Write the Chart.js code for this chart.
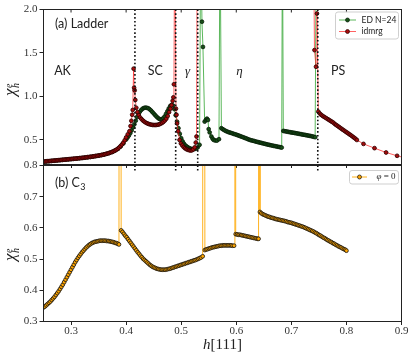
<!DOCTYPE html>
<html><head><meta charset="utf-8">
<script src="https://cdn.jsdelivr.net/npm/chart.js@4.4.0/dist/chart.umd.min.js"></script>
<style>
html,body{margin:0;padding:0;background:#fff;}
#wrap{position:relative;width:415px;height:359px;overflow:hidden;}
canvas{position:absolute;left:0;top:0;}
</style></head><body>
<div id="wrap"><canvas id="cTop" width="415" height="359"></canvas><canvas id="cBot" width="415" height="359"></canvas></div>
<script>
// ---------- data ----------
const xTicks = [0.3,0.4,0.5,0.6,0.7,0.8,0.9];
const topYTicks = [0.5,1.0,1.5,2.0];
const botYTicks = [0.3,0.4,0.5,0.6,0.7,0.8];
const phaseBoundaries = [0.416,0.49,0.53,0.748];
const phaseNames = ['AK','SC','γ','η','PS'];
const phaseLabelX = [0.2845,0.4528,0.5116,0.6058,0.7848];
const phaseLabelY = [1.25,1.25,1.25,1.25,1.25];

// ED N=24 (ladder)
const edX = [0.25,0.255,0.26,0.265,0.27,0.275,0.28,0.285,0.29,0.295,0.30,0.305,0.31,0.315,0.32,0.325,0.33,0.335,0.34,0.345,0.35,0.355,0.36,0.365,0.37,0.375,0.38,0.385,0.39,0.395,
0.40,0.4025,0.405,0.4075,0.41,0.4125,0.415,0.4175,0.42,0.4225,0.425,0.4275,0.43,0.4325,0.435,0.4375,0.44,0.4425,0.445,0.4475,0.45,0.4525,0.455,0.4575,0.46,0.4625,0.465,0.4675,0.47,0.4725,0.475,0.4775,0.48,0.4825,0.485,0.4875,0.49,0.4925,0.495,0.4975,0.50,0.5025,0.505,0.5075,0.51,0.5125,0.515,0.5175,0.52,0.5225,0.525,0.5275,0.53,0.5334,
0.5355,0.5377,0.5395,0.5426,0.5448,0.5468,0.5486,0.5499,0.5517,0.5548,0.557,0.559,0.562,0.565,0.5686,0.5705,
0.573,0.5755,0.578,0.5805,0.583,0.5855,0.588,0.5905,0.593,0.5955,0.598,0.6005,0.603,0.6055,0.608,0.6105,0.613,0.6155,0.618,0.6205,0.623,0.6255,0.628,0.6305,0.633,0.6355,0.638,0.6405,0.643,0.6455,0.648,0.6505,0.653,0.6555,0.658,0.6605,0.663,0.6655,0.668,0.6705,0.673,0.6755,0.678,0.6805,0.6825,
0.6838,0.6854,0.688,0.6905,0.693,0.6955,0.698,0.7005,0.703,0.7055,0.708,0.7105,0.713,0.7155,0.718,0.7205,0.723,0.7255,0.728,0.7305,0.733,0.7355,0.738,0.7405,0.7432,0.7455];
const edY = [0.25,0.253,0.256,0.259,0.262,0.265,0.268,0.271,0.274,0.277,0.28,0.283,0.286,0.29,0.293,0.297,0.301,0.305,0.31,0.315,0.32,0.326,0.333,0.341,0.351,0.363,0.378,0.397,0.425,0.46,
0.505,0.527,0.55,0.578,0.61,0.645,0.68,0.722,0.765,0.798,0.825,0.845,0.86,0.868,0.872,0.87,0.865,0.854,0.84,0.823,0.805,0.787,0.77,0.755,0.743,0.736,0.737,0.752,0.77,0.8,0.83,0.862,0.89,0.903,0.897,0.855,0.785,0.71,0.635,0.57,0.52,0.485,0.458,0.438,0.425,0.414,0.405,0.399,0.395,0.394,0.397,0.404,0.415,0.444,
3.0,1.86,1.57,0.711,0.73,0.745,0.73,0.625,0.587,0.54,0.515,0.50,0.494,0.493,0.509,3.0,
0.635,0.624,0.614,0.605,0.598,0.591,0.586,0.581,0.576,0.57,0.565,0.56,0.554,0.548,0.542,0.536,0.53,0.524,0.518,0.511,0.505,0.499,0.495,0.491,0.487,0.482,0.478,0.474,0.47,0.466,0.462,0.458,0.454,0.45,0.446,0.443,0.439,0.436,0.432,0.429,0.426,0.422,0.419,0.416,0.413,
3.0,0.604,0.601,0.598,0.595,0.592,0.589,0.586,0.584,0.581,0.578,0.575,0.572,0.569,0.566,0.562,0.56,0.557,0.554,0.551,0.548,0.545,0.541,0.537,0.532,3.0];

// idmrg (ladder)
const dmrgX = [0.25,0.2525,0.255,0.2575,0.26,0.2625,0.265,0.2675,0.27,0.2725,0.275,0.2775,0.28,0.2825,0.285,0.2875,0.29,0.2925,0.295,0.2975,0.30,0.3025,0.305,0.3075,0.31,0.3125,0.315,0.3175,0.32,0.3225,0.325,0.3275,0.33,0.3325,0.335,0.3375,0.34,0.3425,0.345,0.3475,0.35,0.3525,0.355,0.3575,0.36,0.3625,0.365,0.3675,0.37,0.3725,0.375,0.3775,0.38,0.3825,0.385,0.3875,0.39,0.3925,0.395,0.3975,0.40,
0.403,0.406,0.408,0.4095,0.411,0.412,0.4136,0.4145,0.4155,0.4167,0.4185,0.4205,0.423,0.4255,0.428,0.4305,0.433,0.4355,0.438,0.4405,0.443,0.4455,0.448,0.4505,0.453,0.4555,0.458,0.4605,0.463,0.4655,0.468,0.4705,0.473,0.4755,0.478,0.4805,0.4825,0.4845,0.4858,0.4868,0.4883,
0.4905,0.4915,0.4925,0.4945,0.497,0.4995,0.502,0.5045,0.507,0.5095,0.512,0.5145,0.517,0.5195,0.522,0.5245,0.5265,0.5278,0.5292,
0.74,0.742,0.7448,0.7465,0.749,0.7515,0.754,0.7565,0.759,0.7615,0.764,0.7665,0.769,0.7715,0.774,0.7765,0.779,0.7815,0.784,0.7865,0.789,0.7915,0.794,0.7965,0.799,0.8015,0.804,0.8065,0.809,0.8115,0.814,0.8165,0.819,
0.831,0.851,0.872,0.892,0.912];
const dmrgY = [0.252,0.253,0.255,0.256,0.257,0.259,0.26,0.262,0.263,0.265,0.266,0.268,0.269,0.271,0.272,0.274,0.275,0.277,0.278,0.28,0.281,0.283,0.284,0.286,0.287,0.289,0.291,0.292,0.294,0.296,0.298,0.3,0.302,0.304,0.306,0.308,0.311,0.313,0.316,0.318,0.321,0.324,0.327,0.33,0.334,0.338,0.342,0.347,0.352,0.358,0.364,0.371,0.38,0.389,0.40,0.414,0.43,0.449,0.47,0.497,0.53,
0.565,0.60,0.66,0.72,0.79,0.845,1.32,1.10,1.07,0.96,0.87,0.82,0.785,0.758,0.74,0.724,0.711,0.70,0.692,0.685,0.68,0.676,0.673,0.672,0.672,0.673,0.676,0.681,0.688,0.697,0.709,0.725,0.745,0.775,0.82,0.86,0.90,0.95,0.99,1.14,3.0,
0.86,0.79,0.69,0.60,0.50,0.46,0.437,0.418,0.404,0.394,0.387,0.382,0.379,0.381,0.393,0.415,0.47,0.54,3.0,
3.0,1.533,1.342,1.954,0.826,0.805,0.79,0.778,0.768,0.758,0.748,0.738,0.728,0.718,0.708,0.698,0.683,0.672,0.661,0.65,0.638,0.627,0.616,0.605,0.594,0.583,0.572,0.561,0.55,0.538,0.526,0.514,0.50,
0.455,0.406,0.356,0.318,0.286];

// C3, phi = 0
const c3X = [0.25,0.2525,0.255,0.2575,0.26,0.2625,0.265,0.2675,0.27,0.2725,0.275,0.2775,0.28,0.2825,0.285,0.2875,0.29,0.2925,0.295,0.2975,0.30,0.3025,0.305,0.3075,0.31,0.3125,0.315,0.3175,0.32,0.3225,0.325,0.3275,0.33,0.3325,0.335,0.3375,0.34,0.3425,0.345,0.3475,0.35,0.3525,0.355,0.3575,0.36,0.3625,0.365,0.3675,0.37,0.3725,0.375,0.3775,0.38,0.3825,0.385,0.387,
0.389,
0.391,0.3935,0.396,0.3985,0.401,0.4035,0.406,0.4085,0.411,0.4135,0.416,0.4185,0.421,0.4235,0.426,0.4285,0.431,0.4335,0.436,0.4385,0.441,0.4435,0.446,0.4485,0.451,0.4535,0.456,0.4585,0.461,0.4635,0.466,0.4685,0.471,0.4735,0.476,0.4785,0.481,0.4835,0.486,0.4885,0.491,0.4935,0.496,0.4985,0.501,0.5035,0.506,0.5085,0.511,0.5135,0.516,0.5185,0.521,0.5235,0.526,0.5285,0.531,0.5335,0.536,0.539,
0.541,
0.543,0.5455,0.548,0.5505,0.553,0.5555,0.558,0.5605,0.563,0.5655,0.568,0.5705,0.573,0.5755,0.578,0.5805,0.583,0.5855,0.588,0.5905,0.593,0.596,
0.5975,
0.599,0.6015,0.604,0.6065,0.609,0.6115,0.614,0.6165,0.619,0.6215,0.624,0.6265,0.629,0.6315,0.634,0.6365,0.639,0.6405,
0.6417,
0.643,0.6455,0.648,0.6505,0.653,0.6555,0.658,0.6605,0.663,0.6655,0.668,0.6705,0.673,0.6755,0.678,0.6805,0.683,0.6855,0.688,0.6905,0.693,0.6955,0.698,0.7005,0.703,0.7055,0.708,0.7105,0.713,0.7155,0.718,0.7205,0.723,0.7255,0.728,0.7305,0.733,0.7355,0.738,0.7405,0.743,0.7455,0.748,0.7505,0.753,0.7555,0.758,0.7605,0.763,0.7655,0.768,0.7705,0.773,0.7755,0.778,0.7805,0.783,0.7855,0.788,0.7905,0.793,0.7955,0.798,0.80];
const c3Y = [0.345,0.348,0.352,0.356,0.36,0.364,0.369,0.374,0.379,0.385,0.391,0.397,0.404,0.411,0.418,0.426,0.434,0.442,0.45,0.458,0.466,0.474,0.482,0.49,0.497,0.504,0.51,0.516,0.522,0.527,0.532,0.537,0.541,0.545,0.548,0.551,0.553,0.555,0.556,0.557,0.558,0.559,0.559,0.559,0.559,0.559,0.558,0.558,0.557,0.556,0.555,0.554,0.552,0.551,0.549,0.547,
5.0,
0.592,0.587,0.581,0.575,0.57,0.564,0.558,0.552,0.546,0.54,0.534,0.528,0.522,0.517,0.511,0.506,0.501,0.497,0.493,0.489,0.485,0.481,0.478,0.475,0.473,0.471,0.469,0.468,0.467,0.466,0.466,0.466,0.466,0.467,0.468,0.469,0.47,0.472,0.473,0.475,0.476,0.478,0.479,0.481,0.482,0.484,0.485,0.487,0.488,0.49,0.491,0.493,0.494,0.496,0.497,0.499,0.501,0.503,0.505,0.509,
5.0,
0.529,0.531,0.532,0.534,0.535,0.537,0.538,0.539,0.54,0.541,0.542,0.543,0.543,0.544,0.544,0.544,0.544,0.544,0.544,0.544,0.543,0.543,
5.0,
0.58,0.579,0.578,0.578,0.577,0.576,0.575,0.574,0.573,0.572,0.571,0.57,0.569,0.568,0.567,0.566,0.565,0.565,
5.0,
0.651,0.647,0.644,0.642,0.64,0.638,0.636,0.635,0.633,0.632,0.631,0.629,0.628,0.627,0.626,0.625,0.624,0.623,0.622,0.621,0.619,0.618,0.617,0.616,0.614,0.613,0.611,0.61,0.608,0.607,0.605,0.604,0.602,0.6,0.598,0.596,0.594,0.592,0.59,0.588,0.585,0.583,0.58,0.577,0.575,0.572,0.569,0.567,0.564,0.561,0.559,0.556,0.554,0.551,0.549,0.546,0.544,0.541,0.539,0.537,0.534,0.532,0.53,0.527];

// ---------- styles ----------
const ED_LINE = 'rgba(50,165,50,0.8)', ED_FILL = '#174f17', ED_EDGE = '#061c06';
const DM_LINE = 'rgba(255,45,45,0.75)', DM_FILL = '#a50d0d', DM_EDGE = '#2a0000';
const OR_LINE = '#ffb21f', OR_FILL = '#ffa500', OR_EDGE = '#111';
const TICK_FONT = {family: 'Liberation Serif', size: 11};
const SANS = 'Lato';

const pts = (xs, ys) => xs.map((x, i) => ({x: x, y: ys[i]}));

const framePlugin = {
  id: 'frame',
  afterDraw(chart) {
    const {ctx, chartArea: a} = chart;
    ctx.save();
    ctx.strokeStyle = '#222'; ctx.lineWidth = 1;
    ctx.strokeRect(a.left, a.top, a.right - a.left, a.bottom - a.top);
    ctx.restore();
  }
};

function drawYTitle(ctx, cx, cy) {
  ctx.save();
  ctx.translate(cx, cy);
  ctx.rotate(-Math.PI / 2);
  ctx.fillStyle = '#222';
  ctx.textBaseline = 'alphabetic';
  ctx.font = 'italic 17px "Liberation Serif"';
  ctx.fillText('χ', -9, 0);
  const w = ctx.measureText('χ').width;
  ctx.font = 'italic 10px "Liberation Serif"';
  ctx.fillText('e', -9 + w + 0.5, -3);
  ctx.fillText('h', -9 + w + 0.5, 4);
  ctx.restore();
}

function drawLegendBox(ctx, x, y, w, h) {
  ctx.save();
  ctx.fillStyle = 'rgba(255,255,255,0.85)';
  ctx.strokeStyle = '#cfcfcf'; ctx.lineWidth = 1;
  ctx.beginPath();
  if (ctx.roundRect) ctx.roundRect(x, y, w, h, 2.5); else ctx.rect(x, y, w, h);
  ctx.fill(); ctx.stroke();
  ctx.restore();
}
function drawLegendSample(ctx, x0, x1, y, line, fill, edge) {
  ctx.save();
  ctx.strokeStyle = line; ctx.lineWidth = 1;
  ctx.beginPath(); ctx.moveTo(x0, y); ctx.lineTo(x1, y); ctx.stroke();
  ctx.fillStyle = fill; ctx.strokeStyle = edge; ctx.lineWidth = 0.7;
  ctx.beginPath(); ctx.arc((x0 + x1) / 2, y, 2, 0, Math.PI * 2); ctx.fill(); ctx.stroke();
  ctx.restore();
}

const topDecor = {
  id: 'topDecor',
  afterDatasetsDraw(chart) {
    const {ctx, chartArea: a, scales: {x}} = chart;
    ctx.save();
    ctx.strokeStyle = '#111'; ctx.lineWidth = 1.6; ctx.setLineDash([1.6, 2.2]);
    phaseBoundaries.forEach(v => {
      const px = x.getPixelForValue(v);
      ctx.beginPath(); ctx.moveTo(px, a.top); ctx.lineTo(px, a.bottom + 6); ctx.stroke();
    });
    ctx.restore();
  },
  afterDraw(chart) {
    const {ctx, chartArea: a, scales: {x, y}} = chart;
    ctx.save();
    ctx.strokeStyle = '#222'; ctx.lineWidth = 1;
    xTicks.forEach(v => { const px = x.getPixelForValue(v); ctx.beginPath(); ctx.moveTo(px, a.top); ctx.lineTo(px, a.top + 3); ctx.stroke(); });
    ctx.fillStyle = '#222'; ctx.textBaseline = 'alphabetic'; ctx.textAlign = 'left';
    ctx.font = '12.5px ' + SANS;
    ctx.fillText('(a) Ladder', a.left + 11.5, a.top + 18);
    ctx.textAlign = 'center';
    phaseNames.forEach((n, i) => {
      const greek = (n === 'γ' || n === 'η');
      ctx.font = greek ? 'italic 13px "Liberation Serif"' : '12.5px ' + SANS;
      ctx.fillText(n, x.getPixelForValue(phaseLabelX[i]), y.getPixelForValue(phaseLabelY[i]));
    });
    const bw = 63, bh = 27, bx = a.right - 3 - bw, by = a.top + 2.5;
    drawLegendBox(ctx, bx, by, bw, bh);
    drawLegendSample(ctx, bx + 3.5, bx + 20.5, by + 8, ED_LINE, ED_FILL, ED_EDGE);
    drawLegendSample(ctx, bx + 3.5, bx + 20.5, by + 19.5, DM_LINE, DM_FILL, DM_EDGE);
    ctx.fillStyle = '#222'; ctx.textAlign = 'left'; ctx.textBaseline = 'middle';
    ctx.font = '8.5px ' + SANS;
    ctx.fillText('ED N=24', bx + 26, by + 8);
    ctx.fillText('idmrg', bx + 26, by + 19.5);
    ctx.restore();
    drawYTitle(ctx, 14.5, (a.top + a.bottom) / 2);
  }
};

const botDecor = {
  id: 'botDecor',
  afterDraw(chart) {
    const {ctx, chartArea: a} = chart;
    ctx.save();
    ctx.fillStyle = '#222'; ctx.textBaseline = 'alphabetic'; ctx.textAlign = 'left';
    ctx.font = '12.5px ' + SANS;
    ctx.fillText('(b) C', a.left + 11.5, a.top + 21.5);
    const w = ctx.measureText('(b) C').width;
    ctx.font = '9px ' + SANS;
    ctx.fillText('3', a.left + 11.5 + w + 0.5, a.top + 24.5);
    const bw = 49, bh = 13.5, bx = a.right - 3 - bw, by = a.top + 5;
    drawLegendBox(ctx, bx, by, bw, bh);
    drawLegendSample(ctx, bx + 2.5, bx + 17.5, by + 6.5, OR_LINE, OR_FILL, OR_EDGE);
    ctx.fillStyle = '#222'; ctx.textBaseline = 'middle';
    ctx.font = 'italic 9px "Liberation Serif"';
    ctx.fillText('φ', bx + 27, by + 6.5);
    const pw = ctx.measureText('φ').width;
    ctx.font = '9px "Liberation Serif"';
    ctx.fillText(' = 0', bx + 27 + pw, by + 6.5);
    ctx.textBaseline = 'alphabetic';
    ctx.font = 'italic 15px "Liberation Serif"';
    const hw = ctx.measureText('h').width;
    ctx.font = '15px "Liberation Serif"';
    const rw = ctx.measureText('[111]').width;
    const sx = (a.left + a.right) / 2 - (hw + rw) / 2;
    ctx.font = 'italic 15px "Liberation Serif"';
    ctx.fillText('h', sx, 349);
    ctx.font = '15px "Liberation Serif"';
    ctx.fillText('[111]', sx + hw, 349);
    ctx.restore();
    drawYTitle(ctx, 14.5, 252);
  }
};

function axisX(showLabels, height) {
  return {
    type: 'linear', min: 0.25, max: 0.9,
    afterBuildTicks: s => { s.ticks = xTicks.map(v => ({value: v})); },
    afterFit: s => { s.height = height; },
    ticks: {display: showLabels, font: TICK_FONT, color: '#333', padding: 0, maxRotation: 0, autoSkip: false, callback: v => v.toFixed(1)},
    grid: {drawOnChartArea: false, drawTicks: true, tickLength: 3.5, color: '#222'},
    border: {display: false}
  };
}
function axisY(min, max, ticks) {
  return {
    type: 'linear', min: min, max: max,
    afterBuildTicks: s => { s.ticks = ticks.map(v => ({value: v})); },
    afterFit: s => { s.width = 43.5; },
    ticks: {font: TICK_FONT, color: '#333', padding: 2, callback: v => v.toFixed(1)},
    grid: {drawOnChartArea: false, drawTicks: true, tickLength: 4, color: '#222'},
    border: {display: false}
  };
}
function series(label, data, line, fill, edge, order) {
  return {label: label, data: data, showLine: true, borderColor: line, borderWidth: 1,
    pointRadius: 1.9, pointBackgroundColor: fill, pointBorderColor: edge, pointBorderWidth: 0.8,
    pointHoverRadius: 1.9, order: order};
}

new Chart(document.getElementById('cTop'), {
  type: 'scatter',
  data: {datasets: [
    series('idmrg', pts(dmrgX, dmrgY), DM_LINE, DM_FILL, DM_EDGE, 0),
    series('ED N=24', pts(edX, edY), ED_LINE, ED_FILL, ED_EDGE, 1)
  ]},
  options: {
    responsive: false, animation: false, devicePixelRatio: 1,
    layout: {padding: {left: 0, top: 9.5, right: 13.5, bottom: 359 - 164.5 - 10}},
    plugins: {legend: {display: false}, tooltip: {enabled: false}},
    scales: {x: axisX(false, 10), y: axisY(0.218, 2.0, topYTicks)}
  },
  plugins: [framePlugin, topDecor]
});

new Chart(document.getElementById('cBot'), {
  type: 'scatter',
  data: {datasets: [
    series('φ = 0', pts(c3X, c3Y), OR_LINE, OR_FILL, OR_EDGE, 0)
  ]},
  options: {
    responsive: false, animation: false, devicePixelRatio: 1,
    layout: {padding: {left: 0, top: 165.5, right: 13.5, bottom: 0}},
    plugins: {legend: {display: false}, tooltip: {enabled: false}},
    scales: {x: axisX(true, 37.5), y: axisY(0.3, 0.8, botYTicks)}
  },
  plugins: [framePlugin, botDecor]
});
</script>
</body></html>
